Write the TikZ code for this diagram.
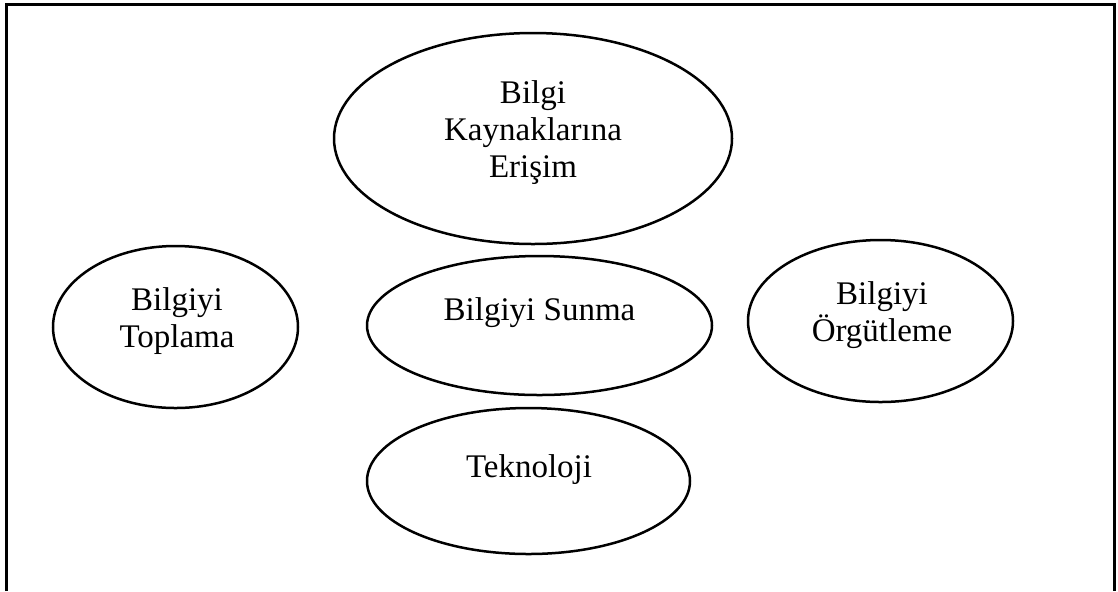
\documentclass[tikz,border=0pt]{standalone}
\usepackage{fontspec}
\setmainfont{Liberation Serif}
\usepackage{tikz}
\usetikzlibrary{shapes.geometric}
\newcommand{\bigtxt}{\fontsize{16.5}{18.5}\selectfont}
\tikzset{
	bubble/.style={ellipse, draw, line width=1.25pt, inner sep=0pt},
	bubbletext/.style={align=center, inner sep=0pt, font=\bigtxt}
}

\begin{document}
\begin{tikzpicture}[x=0.5pt,y=-0.5pt]
	\useasboundingbox (0,0) rectangle (1118,591);
	\draw[line width=1.5pt] (6,591) -- (6,4) -- (1114,4) -- (1114,591);
	\node[bubble, minimum width=199pt, minimum height=105.5pt] (kaynak) at (533,138.5) {};
	\node[bubble, minimum width=122.5pt, minimum height=81pt] (toplama) at (175.5,327) {};
	\node[bubble, minimum width=172.5pt, minimum height=69.5pt] (sunma) at (539.5,325.5) {};
	\node[bubble, minimum width=132.5pt, minimum height=81pt] (orgut) at (880.5,321) {};
	\node[bubble, minimum width=161.5pt, minimum height=73pt] (tekno) at (528.5,481) {};
	\node[bubbletext] (kaynaktxt) at (533,133) {Bilgi\\Kaynaklarına\\Erişim};
	\node[bubbletext] (toplamatxt) at (177,321.5) {Bilgiyi\\Toplama};
	\node[bubbletext] (sunmatxt) at (539.5,313) {Bilgiyi Sunma};
	\node[bubbletext] (orguttxt) at (882,315) {Bilgiyi\\Örgütleme};
	\node[bubbletext] (teknotxt) at (529,470) {Teknoloji};
\end{tikzpicture}
\end{document}
